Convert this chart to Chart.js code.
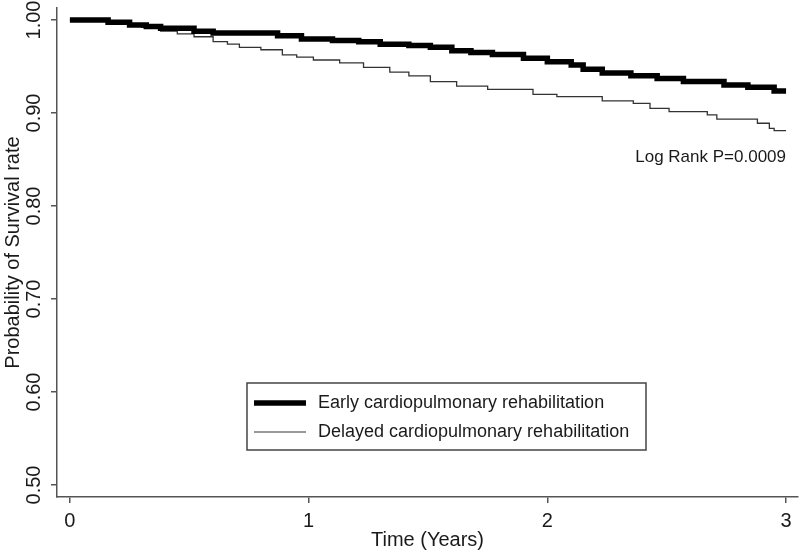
<!DOCTYPE html>
<html>
<head>
<meta charset="utf-8">
<script src="https://cdn.jsdelivr.net/npm/chart.js@4.4.1/dist/chart.umd.min.js"></script>
<style>
  html, body { margin: 0; padding: 0; background: #fff; }
  #wrap { width: 800px; height: 553px; }
</style>
</head>
<body>
<div id="wrap"><canvas id="km"></canvas></div>
<script>
// ---- data ----
var earlyTime = [0, 0.16, 0.25, 0.32, 0.38, 0.52, 0.60, 0.87, 0.97, 1.10, 1.21, 1.30, 1.42, 1.51, 1.60, 1.68, 1.77, 1.90, 2.00, 2.10, 2.15, 2.23, 2.35, 2.46, 2.57, 2.74, 2.84, 2.95, 3.00];
var earlySurv = [1.000, 0.9975, 0.9946, 0.993, 0.991, 0.988, 0.986, 0.983, 0.9796, 0.978, 0.9767, 0.974, 0.9725, 0.9706, 0.967, 0.965, 0.963, 0.9588, 0.955, 0.9516, 0.947, 0.943, 0.940, 0.937, 0.934, 0.930, 0.9276, 0.9237, 0.9237];

var delayedTime = [0, 0.16, 0.25, 0.30, 0.38, 0.45, 0.52, 0.60, 0.66, 0.71, 0.80, 0.89, 0.95, 1.02, 1.13, 1.23, 1.34, 1.42, 1.51, 1.62, 1.75, 1.94, 2.04, 2.23, 2.36, 2.43, 2.51, 2.67, 2.71, 2.88, 2.93, 2.95, 3.00];
var delayedSurv = [1.000, 0.9975, 0.9946, 0.992, 0.988, 0.985, 0.982, 0.9767, 0.974, 0.9706, 0.968, 0.9624, 0.960, 0.957, 0.954, 0.949, 0.944, 0.940, 0.9337, 0.929, 0.9255, 0.920, 0.9176, 0.913, 0.9104, 0.905, 0.9014, 0.898, 0.8935, 0.889, 0.8835, 0.881, 0.881];

var seriesLabels = ['Early cardiopulmonary rehabilitation', 'Delayed cardiopulmonary rehabilitation'];
var xTicks = [0, 1, 2, 3];
var yTicks = [0.5, 0.6, 0.7, 0.8, 0.9, 1.0];
var pValueText = 'Log Rank P=0.0009';

var FONT = '"Liberation Sans", Arial, sans-serif';
var INK = '#1a1a1a';
var AXIS = '#555';

function toPoints(t, s) {
    var pts = [];
    for (var i = 0; i < t.length; i++) pts.push({ x: t[i], y: s[i] });
    return pts;
}

// y tick labels (rotated, R style), legend box and p-value text
var extrasPlugin = {
    id: 'kmExtras',
    afterDraw: function (chart) {
        var ctx = chart.ctx;
        var y = chart.scales.y;

        ctx.save();
        ctx.fillStyle = INK;
        ctx.font = '20px ' + FONT;
        ctx.textAlign = 'center';
        ctx.textBaseline = 'middle';
        yTicks.forEach(function (v) {
            ctx.save();
            ctx.translate(34, y.getPixelForValue(v));
            ctx.rotate(-Math.PI / 2);
            ctx.fillText(v.toFixed(2), 0, 0);
            ctx.restore();
        });

        // p value
        ctx.font = '17px ' + FONT;
        ctx.textAlign = 'right';
        ctx.fillText(pValueText, 786, 157);

        // legend
        var lx = 247, ly = 383, lw = 399, lh = 67;
        ctx.strokeStyle = '#444';
        ctx.lineWidth = 1.5;
        ctx.strokeRect(lx, ly, lw, lh);
        ctx.font = '18px ' + FONT;
        var ds = chart.data.datasets;
        var rows = [403, 432];
        ds.forEach(function (d, i) {
            ctx.beginPath();
            ctx.strokeStyle = i === 0 ? d.borderColor : '#777';
            ctx.lineWidth = d.borderWidth;
            ctx.moveTo(254, rows[i]);
            ctx.lineTo(306, rows[i]);
            ctx.stroke();
            ctx.fillStyle = INK;
            ctx.textAlign = 'left';
            ctx.fillText(d.label, 318, rows[i]);
        });
        ctx.restore();
    }
};

var ctx = document.getElementById('km');
var chart = new Chart(ctx, {
    type: 'line',
    data: {
        datasets: [{
            label: seriesLabels[0],
            data: toPoints(earlyTime, earlySurv),
            borderColor: '#000',
            borderWidth: 5.5,
            stepped: true,
            pointRadius: 0,
            fill: false
        },
        {
            label: seriesLabels[1],
            data: toPoints(delayedTime, delayedSurv),
            borderColor: '#333',
            borderWidth: 1.3,
            stepped: true,
            pointRadius: 0,
            fill: false
        }]
    },
    options: {
        responsive: true,
        maintainAspectRatio: false,
        animation: false,
        layout: { padding: { left: 0, top: 8, right: 2, bottom: 0 } },
        plugins: {
            legend: { display: false },
            tooltip: { enabled: false }
        },
        scales: {
            x: {
                type: 'linear',
                min: -0.054,
                max: 3.05,
                afterBuildTicks: function (scale) {
                    scale.ticks = xTicks.map(function (v) { return { value: v }; });
                },
                afterFit: function (scale) { scale.height = 56; },
                grid: { drawOnChartArea: false, drawTicks: true, tickLength: 6, color: AXIS, lineWidth: 1.5 },
                border: { display: true, color: AXIS, width: 1.5 },
                ticks: {
                    autoSkip: false,
                    maxRotation: 0,
                    padding: 6,
                    color: INK,
                    font: { family: FONT, size: 20 },
                    callback: function (v) { return String(v); }
                },
                title: {
                    display: true,
                    text: 'Time (Years)',
                    color: INK,
                    font: { family: FONT, size: 20 },
                    padding: { top: 0, bottom: 1 }
                }
            },
            y: {
                type: 'linear',
                min: 0.4871,
                max: 1.0129,
                afterBuildTicks: function (scale) {
                    scale.ticks = yTicks.map(function (v) { return { value: v }; });
                },
                afterFit: function (scale) { scale.width = 57; },
                grid: { drawOnChartArea: false, drawTicks: true, tickLength: 6, color: AXIS, lineWidth: 1.5 },
                border: { display: true, color: AXIS, width: 1.5 },
                ticks: { display: false },
                title: {
                    display: true,
                    text: 'Probability of Survival rate',
                    color: INK,
                    font: { family: FONT, size: 20 },
                    padding: { top: 1, bottom: 0 }
                }
            }
        }
    },
    plugins: [extrasPlugin]
});
</script>
</body>
</html>
